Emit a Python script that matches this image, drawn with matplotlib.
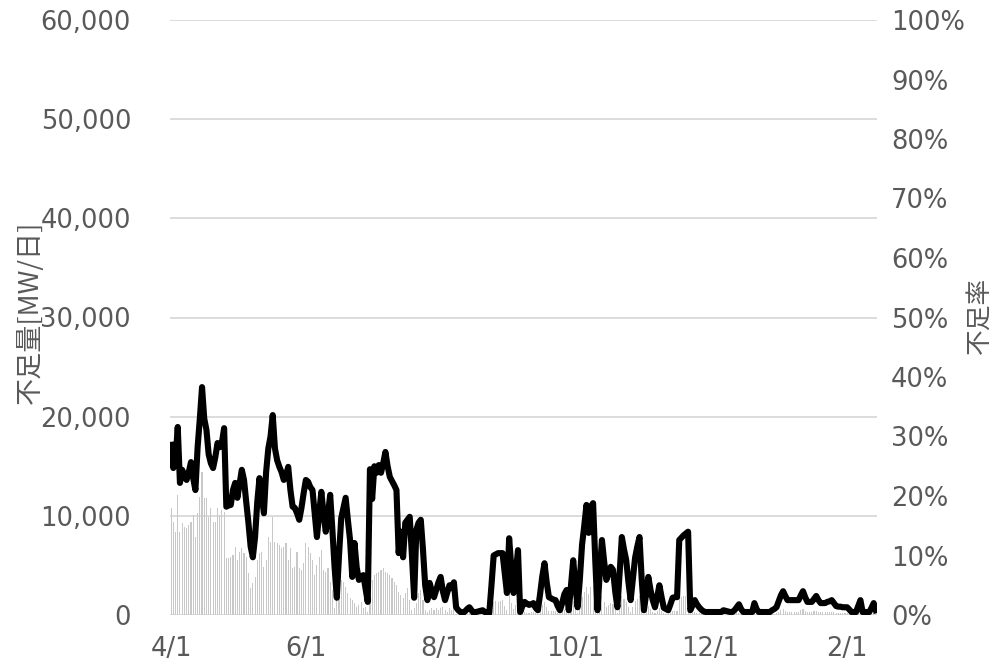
import numpy as np
import pandas as pd
import matplotlib
matplotlib.use('Agg')
import matplotlib.pyplot as plt
import matplotlib.dates as mdates
from matplotlib.ticker import FuncFormatter, MultipleLocator

plt.rcParams['font.family'] = ['DejaVu Sans', 'Noto Sans CJK JP']

# daily dates, 4/1 .. 2/14
dates = pd.date_range('2021-04-01', '2022-02-14', freq='D')

# shortage amount [MW/day]
shortage_mw = [
    10750, 9400, 8400, 12100, 8400, 9270, 8900, 8770, 9070, 9400,
    10080, 7900, 10250, 11920, 14440, 11760, 11760, 9910, 10750, 9400,
    9400, 10750, 10080, 10580, 10410, 5710, 5710, 5880, 6050, 6890,
    5540, 6380, 6720, 6220, 5880, 4200, 2690, 3190, 3860, 5540,
    6220, 6380, 4870, 5540, 7900, 7390, 9910, 7390, 7230, 7060,
    6720, 6890, 7230, 5540, 6720, 4710, 4870, 6380, 4710, 4540,
    5210, 7230, 6890, 6220, 5540, 4030, 5040, 5880, 6550, 4540,
    4370, 4710, 3360, 2520, 670, 2190, 3020, 3530, 3360, 2850,
    2190, 1680, 1510, 1180, 840, 1010, 1340, 670, 840, 330,
    2690, 3530, 4030, 4200, 4370, 4540, 4710, 4370, 4200, 4030,
    3700, 3360, 3020, 2350, 2000, 1680, 2190, 2690, 1510, 500,
    670, 1180, 2190, 2520, 1510, 500, 330, 500, 670, 500,
    670, 500, 670, 840, 500, 330, 670, 500, 670, 150,
    100, 50, 50, 100, 150, 200, 100, 50, 80, 100,
    120, 150, 80, 60, 50, 800, 1340, 1400, 1340, 1450,
    1500, 900, 500, 2200, 1200, 600, 1000, 1600, 100, 200,
    300, 250, 250, 280, 300, 200, 120, 500, 1000, 1300,
    800, 450, 420, 400, 380, 220, 120, 300, 550, 650,
    120, 800, 1400, 750, 200, 900, 1800, 2300, 2850, 2100,
    2800, 2900, 1400, 120, 1000, 1900, 1300, 850, 1000, 1200,
    1100, 600, 200, 1000, 1900, 1600, 1350, 800, 350, 850,
    1400, 1650, 1900, 850, 120, 500, 900, 600, 350, 180,
    400, 700, 400, 170, 140, 110, 250, 400, 420, 420,
    1800, 1850, 1900, 1950, 2000, 110, 230, 350, 250, 180,
    120, 80, 70, 70, 70, 70, 70, 70, 70, 70,
    110, 100, 90, 70, 70, 110, 180, 250, 140, 70,
    70, 70, 70, 70, 280, 140, 70, 70, 70, 70,
    70, 70, 110, 140, 180, 320, 460, 560, 450, 350,
    350, 350, 350, 350, 350, 460, 560, 420, 310, 310,
    310, 380, 450, 350, 280, 280, 280, 310, 320, 350,
    280, 210, 200, 200, 180, 180, 180, 130, 70, 70,
    70, 210, 350, 70, 70, 70, 70, 170, 280, 110,
]

# shortage rate [%]
shortage_rate = [
    28.6, 24.7, 26.0, 31.6, 22.2, 24.4, 23.5, 22.7, 24.0, 25.7,
    23.0, 21.0, 28.2, 33.0, 38.3, 33.0, 31.1, 27.0, 25.5, 24.7,
    26.5, 28.9, 28.2, 29.0, 31.4, 18.2, 18.4, 18.5, 21.0, 22.2,
    19.7, 22.0, 24.4, 22.7, 19.0, 15.5, 11.5, 9.7, 13.1, 19.0,
    23.0, 20.0, 17.1, 24.0, 28.0, 30.0, 33.6, 28.0, 26.0, 24.9,
    24.0, 22.7, 23.5, 24.9, 21.0, 18.2, 18.0, 17.1, 16.0, 18.0,
    20.5, 22.7, 22.4, 21.5, 21.0, 17.0, 13.1, 17.0, 20.7, 17.0,
    14.0, 17.0, 20.2, 14.3, 8.0, 2.9, 10.0, 16.3, 18.0, 19.7,
    16.0, 12.6, 6.4, 12.1, 8.0, 5.9, 6.5, 6.7, 4.5, 2.2,
    24.5, 19.5, 25.0, 23.9, 25.2, 23.9, 25.5, 27.4, 25.0, 23.2,
    22.5, 21.8, 21.0, 10.4, 14.0, 9.7, 15.5, 16.0, 16.5, 10.0,
    2.9, 14.3, 15.5, 16.0, 11.0, 5.0, 2.5, 5.4, 4.0, 3.0,
    4.2, 5.5, 6.4, 4.0, 2.5, 3.8, 5.0, 4.5, 5.5, 1.3,
    0.8, 0.5, 0.3, 0.6, 1.0, 1.3, 0.8, 0.3, 0.5, 0.6,
    0.7, 0.8, 0.5, 0.4, 0.3, 5.0, 10.0, 10.2, 10.4, 10.4,
    10.4, 7.0, 3.7, 12.9, 8.0, 3.7, 7.0, 10.9, 0.5, 1.5,
    2.2, 1.9, 1.7, 1.8, 2.0, 1.2, 0.8, 3.5, 6.5, 8.7,
    5.5, 3.0, 2.8, 2.6, 2.5, 1.5, 0.8, 2.0, 3.5, 4.2,
    0.8, 5.0, 9.2, 5.0, 1.3, 6.0, 11.8, 15.0, 18.5, 13.8,
    18.2, 18.8, 9.0, 0.8, 7.0, 12.6, 9.0, 5.9, 7.0, 8.1,
    7.6, 4.0, 1.3, 7.0, 13.1, 11.0, 9.2, 5.5, 2.5, 6.0,
    9.6, 11.5, 13.1, 6.0, 0.8, 3.5, 6.4, 4.2, 2.5, 1.3,
    3.0, 5.0, 3.0, 1.2, 1.0, 0.8, 1.8, 2.9, 3.0, 3.0,
    12.6, 13.0, 13.4, 13.7, 14.0, 0.8, 1.6, 2.5, 1.8, 1.3,
    0.9, 0.6, 0.5, 0.5, 0.5, 0.5, 0.5, 0.5, 0.5, 0.5,
    0.8, 0.7, 0.6, 0.5, 0.5, 0.8, 1.3, 1.8, 1.0, 0.5,
    0.5, 0.5, 0.5, 0.5, 2.0, 1.0, 0.5, 0.5, 0.5, 0.5,
    0.5, 0.5, 0.8, 1.0, 1.3, 2.3, 3.3, 4.0, 3.2, 2.5,
    2.5, 2.5, 2.5, 2.5, 2.5, 3.3, 4.0, 3.0, 2.2, 2.2,
    2.2, 2.7, 3.2, 2.5, 2.0, 2.0, 2.0, 2.2, 2.3, 2.5,
    2.0, 1.5, 1.4, 1.4, 1.3, 1.3, 1.3, 0.9, 0.5, 0.5,
    0.5, 1.5, 2.5, 0.5, 0.5, 0.5, 0.5, 1.2, 2.0, 0.8,
]

left_label = '不足量[MW/日]'
right_label = '不足率'

txt = '#595959'
fs = 18.5

fig = plt.figure(figsize=(9.94, 6.64), dpi=100)
ax = fig.add_axes([170 / 994, 1 - 615 / 664, 707 / 994, 595 / 664])
ax2 = ax.twinx()

ax.bar(dates, shortage_mw, width=0.5, color='#c8c8c8', zorder=2)
ax2.plot(dates, shortage_rate, color='black', lw=4.4, solid_joinstyle='round', zorder=3)

ax.set_ylim(0, 60000)
ax2.set_ylim(0, 100)
ax.set_xlim(dates[0] - pd.Timedelta(hours=12), dates[-1] + pd.Timedelta(hours=12))

ax.yaxis.set_major_locator(MultipleLocator(10000))
ax.yaxis.set_major_formatter(FuncFormatter(lambda v, p: f'{int(v):,}'))
ax2.yaxis.set_major_locator(MultipleLocator(10))
ax2.yaxis.set_major_formatter(FuncFormatter(lambda v, p: f'{int(v)}%'))

ax.xaxis.set_major_locator(mdates.MonthLocator(bymonth=[2, 4, 6, 8, 10, 12]))
ax.xaxis.set_major_formatter(FuncFormatter(
    lambda v, p: f'{mdates.num2date(v).month}/{mdates.num2date(v).day}'))

ax.grid(axis='y', color='#d9d9d9', lw=1.3, zorder=0)
ax.set_axisbelow(True)
for a in (ax, ax2):
    for s in a.spines.values():
        s.set_visible(False)
ax.tick_params(axis='y', length=0, pad=28, labelsize=fs, labelcolor=txt)
ax.tick_params(axis='x', length=0, pad=15, labelsize=fs, labelcolor=txt)
ax2.tick_params(axis='y', length=0, pad=10, labelsize=fs, labelcolor=txt)

jp = ['Noto Sans CJK JP', 'DejaVu Sans']
fig.text(30 / 994, 1 - 312 / 664, left_label, rotation=90, ha='center', va='center',
         fontsize=19.5, color=txt, family=jp)
fig.text(981 / 994, 1 - 315 / 664, right_label, rotation=90, ha='center', va='center',
         fontsize=18.5, color=txt, family=jp)

fig.savefig('out.png', dpi=100)
